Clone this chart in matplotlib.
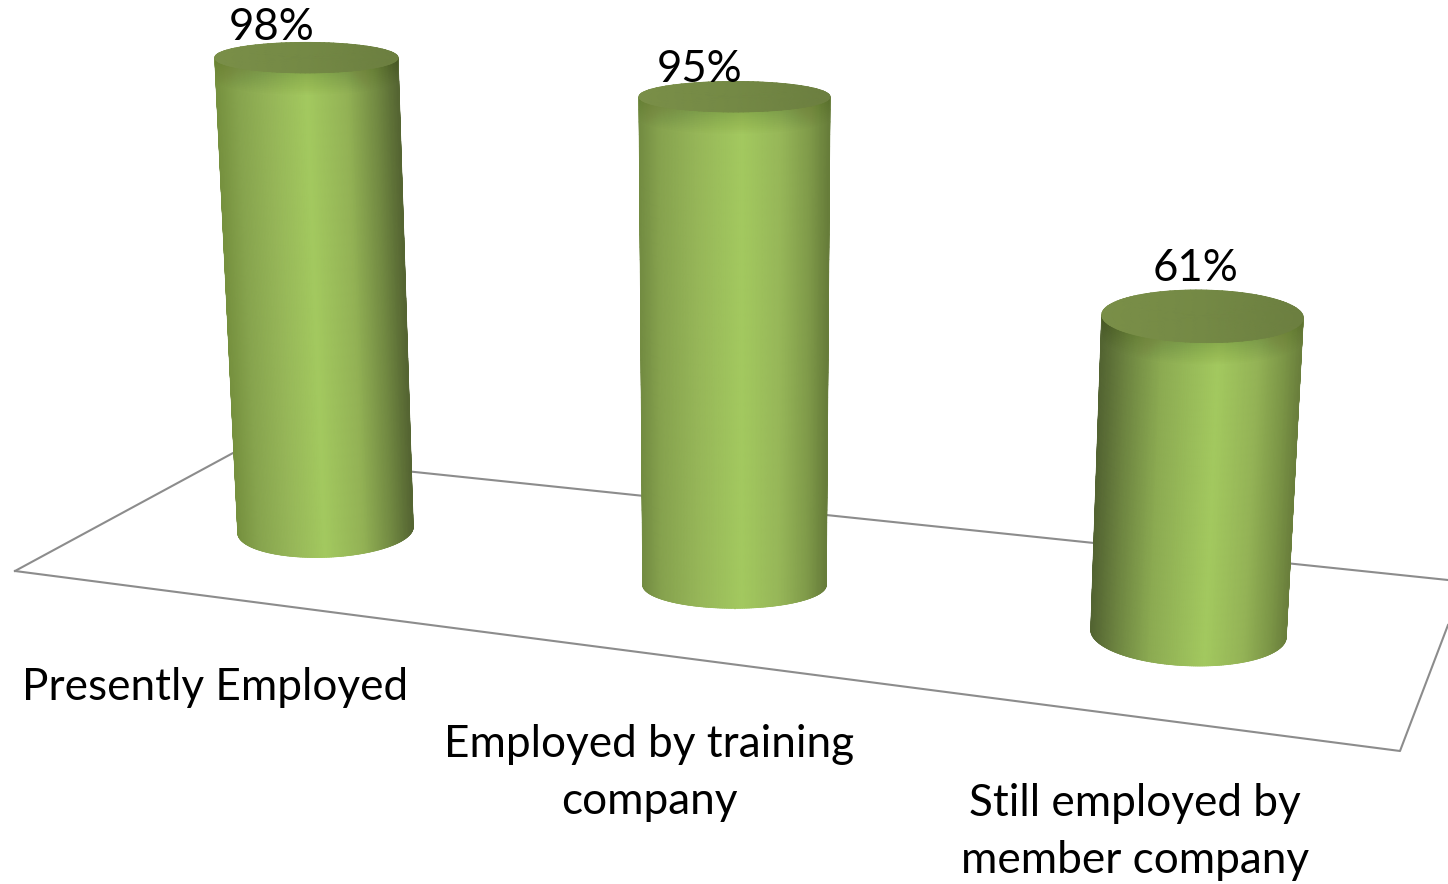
import numpy as np
import matplotlib
matplotlib.use('Agg')
import matplotlib.pyplot as plt
from matplotlib.collections import LineCollection
from matplotlib.colors import LinearSegmentedColormap

plt.rcParams['font.family'] = ['Lato', 'DejaVu Sans']

categories = ['Presently Employed', 'Employed by training\ncompany', 'Still employed by\nmember company']
values = [98, 95, 61]
value_labels = ['98%', '95%', '61%']

# hand fitted perspective for each bar, in pixels
base_x = [325.5, 734.5, 1188.5]
base_y = [530, 585, 633.5]
base_half = [87.5, 91.5, 97.5]
base_tilt = [-3, 0, 3.5]
base_ry = [27, 23, 32]
top_tilt = [0, 0, 1.5]
top_ry = [15, 15, 26]
px_per_pct = [4.82, 5.14, 5.2]
lean = [-0.195, 0.0, 0.23]
taper = [0.04, 0.04, 0.05]
label_dx = [-35, -35, -7]
label_dy = [-30, -27, -48]
cat_x = [215, 649, 1135]
cat_y = [687, 773, 832]

floor_front = [(15, 571), (1400, 751), (1448, 625)]
floor_back = [(15, 571), (233, 453), (1448, 580)]

body_stops = [
    [(0, '#76913f'), (0.12, '#87a44e'), (0.3, '#96b658'), (0.5, '#a3c95f'), (0.72, '#93b255'), (0.88, '#728a42'), (1, '#556532')],
    [(0, '#738c42'), (0.1, '#86a24e'), (0.3, '#96b658'), (0.54, '#a3c95f'), (0.75, '#96b658'), (0.9, '#7f9a49'), (1, '#677d3a')],
    [(0, '#536432'), (0.12, '#6c8340'), (0.3, '#8cab52'), (0.58, '#a3c95f'), (0.78, '#94b356'), (0.92, '#7b9546'), (1, '#6a7f3c')],
]
cap_cmap = LinearSegmentedColormap.from_list('cap', ['#7a8f48', '#748945', '#6c7f40'])


def ring(cx, cy, half, tilt, ry, theta):
    x = cx + half * np.cos(theta)
    y = cy + tilt * np.cos(theta) + ry * np.sin(theta)
    return x, y


def edge(ax, x, y, colors, z):
    # thin coloured stroke, the gouraud mesh has jagged borders
    pts = np.column_stack([x, y])
    segs = np.stack([pts[:-1], pts[1:]], axis=1)
    ax.add_collection(LineCollection(segs, colors=colors[:len(segs)], linewidths=1.0, zorder=z, capstyle='round'))


fig = plt.figure(figsize=(14.48, 8.84), dpi=100)
ax = fig.add_axes([0, 0, 1, 1])
ax.set_xlim(0, 1448)
ax.set_ylim(884, 0)
ax.axis('off')

for line in (floor_front, floor_back):
    ax.plot(*zip(*line), color='#8c8c8c', lw=1.5, zorder=1)

for i, v in enumerate(values):
    top_cx = base_x[i] + v * lean[i]
    top_cy = base_y[i] - v * px_per_pct[i]
    top_half = base_half[i] + v * taper[i]

    theta = np.linspace(np.pi, 0, 160)
    xb, yb = ring(base_x[i], base_y[i], base_half[i], base_tilt[i], base_ry[i], theta)
    xt, yt = ring(top_cx, top_cy, top_half, top_tilt[i], top_ry[i], theta)
    s = np.linspace(0, 1, 40)[:, None]
    X = xt + (xb - xt) * s
    Y = yt + (yb - yt) * s
    frac = (1 + np.cos(theta)) / 2
    C = np.tile(frac, (40, 1))
    cmap = LinearSegmentedColormap.from_list('body%d' % i, body_stops[i])
    ax.pcolormesh(X, Y, C, cmap=cmap, vmin=0, vmax=1, shading='gouraud', zorder=2)

    edge(ax, xb, yb, cmap(frac), 2.5)
    edge(ax, X[:, 0], Y[:, 0], [cmap(0.0)] * 39, 2.5)
    edge(ax, X[:, -1], Y[:, -1], [cmap(1.0)] * 39, 2.5)

    # darker band just below the cap
    for d in np.linspace(2, 22, 12):
        ax.fill(np.r_[xt, xt[::-1]], np.r_[yt, yt[::-1] + d], color='#4a5a22', alpha=0.018, lw=0, zorder=3)

    # cap
    ang = np.linspace(0, 2 * np.pi, 120)
    r = np.linspace(0, 1, 12)[:, None]
    xc, yc = ring(top_cx, top_cy, top_half, top_tilt[i], top_ry[i], ang)
    Xc = top_cx + (xc - top_cx) * r
    Yc = top_cy + (yc - top_cy) * r
    Cc = (Xc - top_cx) / top_half / 2 + 0.5
    ax.pcolormesh(Xc, Yc, Cc, cmap=cap_cmap, vmin=0, vmax=1, shading='gouraud', zorder=4)
    edge(ax, xc, yc, cap_cmap((xc - top_cx) / top_half / 2 + 0.5), 4.5)

    ax.text(top_cx + label_dx[i], top_cy + label_dy[i], value_labels[i], fontsize=31.5,
            ha='center', va='center', color='black', zorder=5)
    ax.text(cat_x[i], cat_y[i], categories[i], fontsize=31.8, ha='center', va='center',
            color='black', linespacing=1.48, zorder=5)

fig.savefig('out.png', dpi=100)
